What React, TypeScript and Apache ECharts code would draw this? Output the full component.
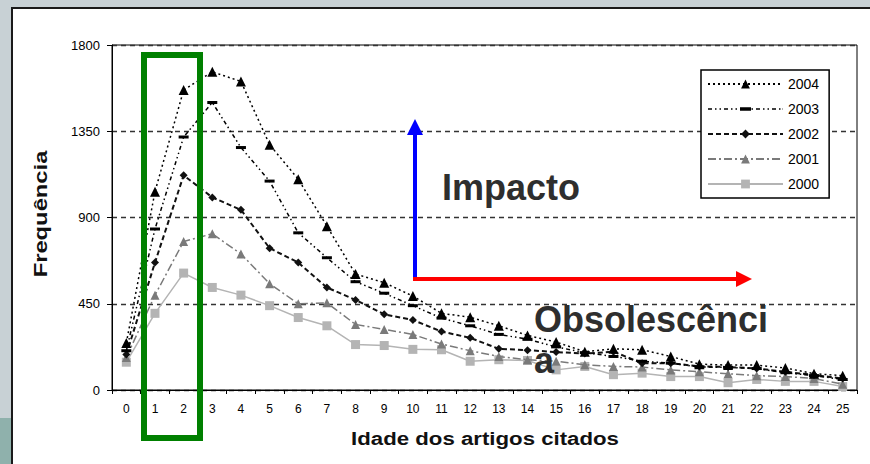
import React, { useEffect, useRef } from "react";
import * as echarts from "echarts";

const ages = ["0","1","2","3","4","5","6","7","8","9","10","11","12","13","14","15","16","17","18","19","20","21","22","23","24","25"];
const yTicks = [0, 450, 900, 1350, 1800];

const s2004 = [245, 1035, 1565, 1660, 1610, 1280, 1100, 855, 605, 560, 490, 400, 380, 335, 285, 250, 200, 215, 210, 175, 135, 130, 130, 115, 85, 75];
const s2003 = [205, 840, 1320, 1500, 1265, 1090, 820, 690, 565, 505, 440, 375, 335, 290, 265, 225, 195, 175, 150, 140, 120, 118, 112, 90, 75, 55];
const s2002 = [185, 665, 1120, 1005, 940, 740, 665, 535, 470, 395, 365, 305, 272, 215, 208, 198, 190, 200, 140, 140, 123, 120, 112, 95, 78, 60];
const s2001 = [170, 495, 775, 815, 710, 555, 450, 455, 342, 316, 290, 240, 205, 175, 158, 150, 132, 123, 120, 105, 95, 85, 75, 70, 60, 30];
const s2000 = [145, 400, 610, 535, 495, 440, 378, 335, 237, 232, 212, 210, 150, 158, 154, 105, 123, 80, 88, 70, 70, 38, 55, 45, 45, 18];

const FONT = "'Liberation Sans', Arial, sans-serif";

function dashIconPath(): string {
  const pat = [4, 3, 1.5, 3, 1.5, 3];
  let d = "";
  let x = 0;
  let i = 0;
  while (x < 75) {
    const len = pat[i % pat.length];
    if (i % 2 === 0) {
      const w = Math.min(len, 75 - x);
      d += `M${x} 4.6h${w}v1.4h${-w}Z`;
    }
    x += len;
    i++;
  }
  d += "M74.6 4.6h0.4v1.4h-0.4Z";
  d += "M32 3.6h11v3.4h-11Z";
  return "path://" + d;
}

export default function App() {
  const ref = useRef<HTMLDivElement>(null);
  useEffect(() => {
    const chart = echarts.init(ref.current!, null, { renderer: "svg" });
    const mk = (name: string, data: number[], color: string, dash: any, width: number, symbol: string, size: any, z: number) => ({
      name,
      type: "line",
      data,
      z,
      symbol,
      symbolSize: size,
      showSymbol: true,
      itemStyle: { color },
      lineStyle: { color, type: dash, width },
    });
    chart.setOption({
      animation: false,
      backgroundColor: "transparent",
      grid: { left: 112, right: 13, top: 45, bottom: 74, show: true, borderColor: "#000", borderWidth: 1 },
      xAxis: {
        type: "category",
        data: ages,
        boundaryGap: true,
        axisLine: { lineStyle: { color: "#000", width: 1 } },
        axisTick: { show: true, length: 4, lineStyle: { color: "#000" } },
        axisLabel: { interval: 0, fontSize: 12, color: "#000", margin: 13, fontFamily: FONT },
        splitLine: { show: false },
      },
      yAxis: {
        type: "value",
        min: yTicks[0],
        max: yTicks[yTicks.length - 1],
        interval: 450,
        axisLine: { show: true, lineStyle: { color: "#000", width: 1 } },
        axisTick: { show: true, length: 5, lineStyle: { color: "#000" } },
        axisLabel: { fontSize: 13, color: "#000", margin: 12, fontFamily: FONT, formatter: (v: number) => String(v) },
        splitLine: { show: true, lineStyle: { color: "#333", width: 1.3, type: [5, 4] } },
      },
      legend: {
        orient: "vertical",
        left: 701,
        top: 70,
        data: [
          { name: "2004" },
          { name: "2003", icon: dashIconPath(), itemStyle: { color: "#000", borderWidth: 0 } },
          { name: "2002" },
          { name: "2001" },
          { name: "2000" },
        ],
        backgroundColor: "#fff",
        borderColor: "#000",
        borderWidth: 1.5,
        padding: [7, 10, 7, 6],
        itemWidth: 75,
        itemHeight: 11,
        itemGap: 11,
        textStyle: { fontSize: 14, color: "#000", fontFamily: FONT },
      },
      series: [
        mk("2004", s2004, "#000", [2, 3], 1.5, "triangle", 10, 6),
        mk("2003", s2003, "#000", [4, 3, 1.5, 3, 1.5, 3], 1.5, "rect", [10, 3], 5),
        mk("2002", s2002, "#111", [5, 3], 2, "diamond", 8, 4),
        mk("2001", s2001, "#7a7a7a", [8, 3, 2, 3], 1.5, "triangle", 9, 3),
        mk("2000", s2000, "#b4b4b4", "solid", 1.5, "rect", 9, 2),
      ],
      graphic: [
        {
          type: "rect",
          z: 20,
          shape: { x: 144, y: 55, width: 56, height: 383 },
          style: { fill: "none", stroke: "#008000", lineWidth: 6 },
        },
        {
          type: "line",
          z: 20,
          shape: { x1: 415, y1: 280, x2: 415, y2: 133 },
          style: { stroke: "#0000ff", lineWidth: 4 },
        },
        {
          type: "polygon",
          z: 20,
          shape: { points: [[407, 135], [423, 135], [415, 119]] },
          style: { fill: "#0000ff" },
        },
        {
          type: "line",
          z: 20,
          shape: { x1: 413, y1: 279, x2: 738, y2: 279 },
          style: { stroke: "#ff0000", lineWidth: 4 },
        },
        {
          type: "polygon",
          z: 20,
          shape: { points: [[736, 271], [736, 287], [752, 279]] },
          style: { fill: "#ff0000" },
        },
        {
          type: "text",
          z: 20,
          x: 442,
          y: 187,
          style: { text: "Impacto", font: `bold 36px ${FONT}`, fill: "#2e2e2e", textAlign: "left", textVerticalAlign: "middle" },
        },
        {
          type: "text",
          z: 20,
          x: 534,
          y: 319,
          style: { text: "Obsolescênci", font: `bold 36px ${FONT}`, fill: "#2e2e2e", textAlign: "left", textVerticalAlign: "middle" },
        },
        {
          type: "text",
          z: 20,
          x: 534,
          y: 360,
          style: { text: "a", font: `bold 36px ${FONT}`, fill: "#2e2e2e", textAlign: "left", textVerticalAlign: "middle" },
        },
        {
          type: "text",
          z: 20,
          x: 485,
          y: 438,
          scaleX: 1.17,
          style: { text: "Idade dos artigos citados", font: `bold 19px ${FONT}`, fill: "#111", textAlign: "center", textVerticalAlign: "middle" },
        },
        {
          type: "text",
          z: 20,
          x: 41,
          y: 214,
          rotation: Math.PI / 2,
          scaleX: 1.25,
          style: { text: "Frequência", font: `bold 19px ${FONT}`, fill: "#111", textAlign: "center", textVerticalAlign: "middle" },
        },
      ],
    });
    return () => chart.dispose();
  }, []);
  return (
    <div style={{ position: "fixed", left: 0, top: 0, width: 870, height: 464, background: "#c8d1d5", overflow: "hidden" }}>
      <div style={{ position: "absolute", left: 0, top: 418, width: 12, height: 46, background: "#8fb1ac" }} />
      <div
        style={{
          position: "absolute",
          left: 11,
          top: 7,
          right: 0,
          bottom: 0,
          background: "#fff",
          borderTop: "2px solid #1a1a1a",
          borderLeft: "2px solid #1a1a1a",
        }}
      />
      <div ref={ref} style={{ position: "absolute", left: 0, top: 0, width: 870, height: 464 }} />
    </div>
  );
}
